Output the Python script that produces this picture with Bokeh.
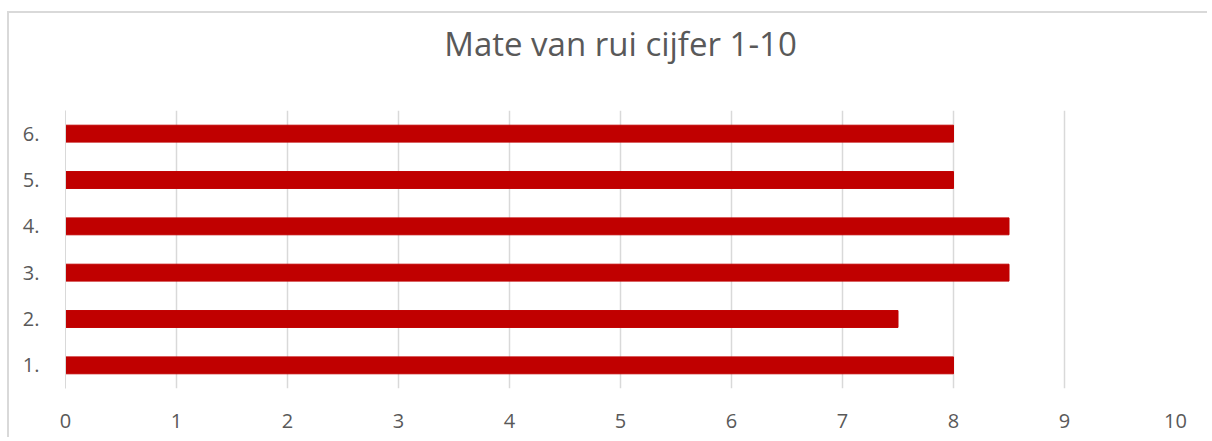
from bokeh.plotting import figure
from bokeh.embed import file_html
from bokeh.resources import INLINE
from bokeh.models import Title

categories = ["1.", "2.", "3.", "4.", "5.", "6."]
values = [8, 7.5, 8.5, 8.5, 8, 8]
x_ticks = [0, 1, 2, 3, 4, 5, 6, 7, 8, 9, 10]
title_text = "Mate van rui cijfer 1-10"

FONT = "Open Sans"
GRAY = "#595959"

p = figure(width=1200, height=426, y_range=categories, x_range=(0, 10),
           output_backend="svg", toolbar_location=None, title=None,
           min_border_left=56, min_border_right=34, min_border_top=97,
           min_border_bottom=51)

p.hbar(y=categories, right=values, left=0, height=0.365, color="#c00000")

t = Title(text=title_text + "\n ", align="center", offset=-8, text_font=FONT,
          text_font_size="33px", text_color=GRAY, text_font_style="normal",
          standoff=0)
p.add_layout(t, "above")

p.xaxis.ticker = x_ticks
p.xaxis.axis_line_color = None
p.xaxis.major_tick_line_color = None
p.xaxis.minor_tick_line_color = None
p.xaxis.major_label_text_font = FONT
p.xaxis.major_label_text_font_size = "20px"
p.xaxis.major_label_text_color = GRAY
p.xaxis.major_label_standoff = 19

p.yaxis.axis_line_color = "#d9d9d9"
p.yaxis.major_tick_line_color = None
p.yaxis.minor_tick_line_color = None
p.yaxis.major_label_text_font = FONT
p.yaxis.major_label_text_font_size = "20px"
p.yaxis.major_label_text_color = GRAY
p.yaxis.major_label_standoff = 20

p.xgrid.grid_line_color = "#d9d9d9"
p.xgrid.grid_line_width = 1.5
p.ygrid.grid_line_color = None
p.outline_line_color = None

p.styles = {"border-left": "2px solid #d9d9d9", "border-top": "2px solid #d9d9d9",
            "margin-left": "7px", "margin-top": "11px"}

open("out.html", "w").write(file_html(p, INLINE))
